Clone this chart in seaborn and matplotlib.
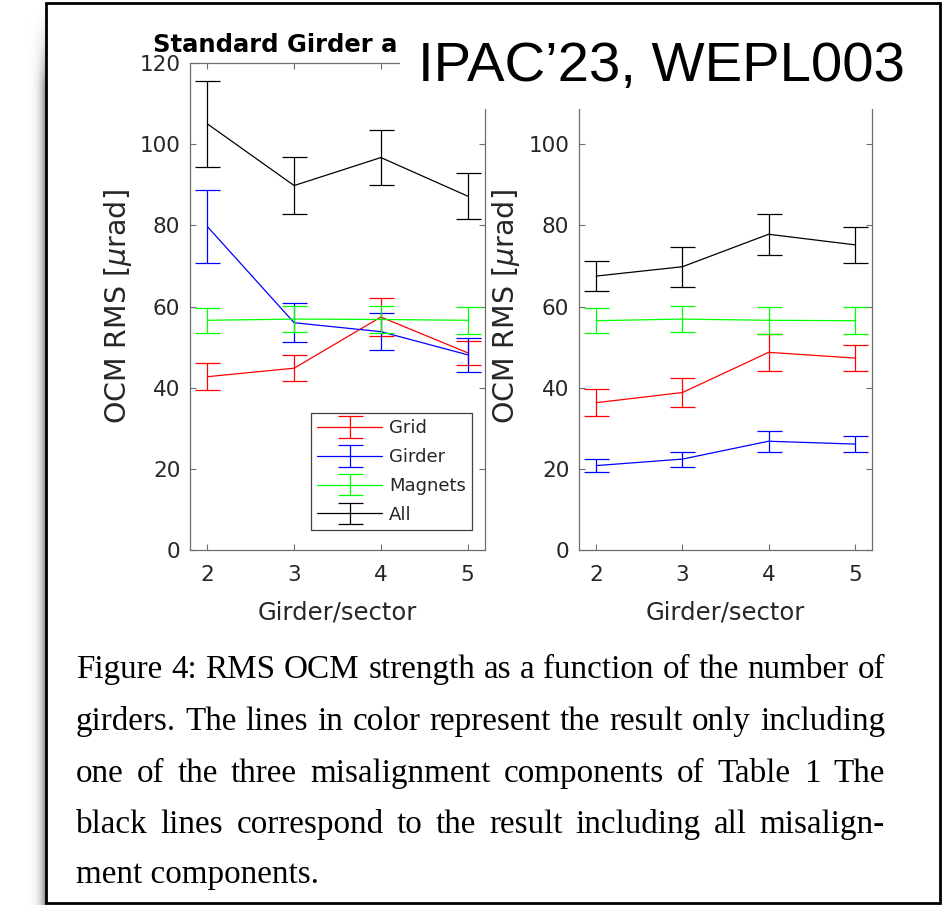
import numpy as np
import pandas as pd
import matplotlib
matplotlib.use("Agg")
import matplotlib.pyplot as plt
import seaborn as sns
from matplotlib.patches import Rectangle
from matplotlib.lines import Line2D
from matplotlib.container import ErrorbarContainer
from matplotlib.legend_handler import HandlerTuple, HandlerErrorbar

# ---------------------------------------------------------------- data
girders = [2, 3, 4, 5]
components = ["Grid", "Girder", "Magnets", "All"]

# left panel (standard girder)
std_grid = [42.7, 44.8, 57.4, 48.6]
std_grid_err = [3.3, 3.2, 4.6, 3.0]
std_girder = [79.7, 56.0, 53.8, 48.1]
std_girder_err = [9.0, 4.8, 4.5, 4.2]
std_magnets = [56.6, 56.9, 56.8, 56.6]
std_magnets_err = [3.1, 3.3, 3.4, 3.3]
std_all = [105.0, 89.8, 96.7, 87.2]
std_all_err = [10.6, 7.1, 6.8, 5.6]

# right panel
alt_grid = [36.3, 38.8, 48.7, 47.3]
alt_grid_err = [3.4, 3.6, 4.5, 3.3]
alt_girder = [20.8, 22.4, 26.8, 26.1]
alt_girder_err = [1.65, 1.85, 2.6, 2.05]
alt_magnets = [56.5, 56.9, 56.6, 56.5]
alt_magnets_err = [3.1, 3.3, 3.3, 3.3]
alt_all = [67.5, 69.8, 77.8, 75.2]
alt_all_err = [3.8, 4.9, 5.0, 4.5]

colors = {"Grid": "#ff0000", "Girder": "#0000ff",
          "Magnets": "#00ff00", "All": "#000000"}

x_label = "Girder/sector"
y_label = "OCM RMS [$\\mu$rad]"
title_text = "Standard Girder a"
badge_text = "IPAC\u201923, WEPL003"
caption_lines = [
    "Figure 4: RMS OCM strength as a function of the number of",
    "girders.  The lines in color represent the result only including",
    "one of the three misalignment components of Table 1 The",
    "black lines correspond to the result including all misalign-",
    "ment components.",
]

panels = {
    "left": {c: (v, e) for c, v, e in zip(
        components,
        [std_grid, std_girder, std_magnets, std_all],
        [std_grid_err, std_girder_err, std_magnets_err, std_all_err])},
    "right": {c: (v, e) for c, v, e in zip(
        components,
        [alt_grid, alt_girder, alt_magnets, alt_all],
        [alt_grid_err, alt_girder_err, alt_magnets_err, alt_all_err])},
}

rows = []
for pname, series in panels.items():
    for comp, (vals, errs) in series.items():
        for g, v, e in zip(girders, vals, errs):
            rows.append({"panel": pname, "component": comp,
                         "girders": g, "rms": v, "err": e})
df = pd.DataFrame(rows)

# ---------------------------------------------------------------- style
sns.set_theme(style="ticks", rc={
    "axes.edgecolor": "#6e6e6e",
    "axes.linewidth": 0.9,
    "xtick.color": "#6e6e6e",
    "ytick.color": "#6e6e6e",
    "xtick.labelcolor": "#262626",
    "ytick.labelcolor": "#262626",
    "axes.labelcolor": "#262626",
})
plt.rcParams["font.family"] = ["DejaVu Sans"]
plt.rcParams["mathtext.fontset"] = "dejavusans"

W, H, DPI = 943, 905, 100
fig = plt.figure(figsize=(W / DPI, H / DPI), dpi=DPI)
fig.patch.set_facecolor("white")


def fx(px):
    return px / W


def fy(py):
    return 1 - py / H


# drop shadow on the left of the framed figure
shadow_ax = fig.add_axes([fx(26), 0, fx(20), fy(10)], zorder=-5)
ramp = np.linspace(0, 1, 60) ** 2.2 * 0.55
fade = np.clip(np.linspace(0, 1, 200) * 12, 0, 1)[:, None]
shadow_ax.imshow(fade * ramp[None, :], cmap="Greys", vmin=0, vmax=1,
                 aspect="auto", interpolation="bilinear")
shadow_ax.set_axis_off()

# outer frame
fig.add_artist(Rectangle((fx(46), fy(903)), fx(940) - fx(46), fy(3) - fy(903),
                         transform=fig.transFigure, facecolor="none",
                         edgecolor="black", linewidth=2.0, zorder=8))

ax_top, ax_bot = 63, 550
axes_px = {"left": (190, 485), "right": (579, 872)}

legend_handles = []
for pname, (x0, x1) in axes_px.items():
    ax = fig.add_axes([fx(x0), fy(ax_bot), fx(x1) - fx(x0),
                       fy(ax_top) - fy(ax_bot)])
    sub = df[df["panel"] == pname]
    sns.lineplot(data=sub, x="girders", y="rms", hue="component",
                 hue_order=components, palette=colors, legend=False,
                 linewidth=0.9, ax=ax, errorbar=None)
    for comp in components:
        s = sub[sub["component"] == comp]
        cont = ax.errorbar(s["girders"], s["rms"], yerr=s["err"], fmt="none",
                           ecolor=colors[comp], elinewidth=0.9, capsize=9,
                           capthick=0.9)
        if pname == "left":
            legend_handles.append(
                (Line2D([], [], color=colors[comp], linewidth=0.9), cont))

    ax.set_xlim(1.8, 5.2)
    ax.set_ylim(0, 120)
    ax.set_xticks(girders)
    ax.set_yticks(range(0, 121 if pname == "left" else 101, 20))
    ax.tick_params(direction="in", length=4, width=0.8, top=True, right=True,
                   labelsize=15.5)
    ax.tick_params(axis="x", pad=11)
    ax.tick_params(axis="y", pad=7)
    for sp in ax.spines.values():
        sp.set_visible(True)
    ax.set_xlabel(x_label, fontsize=17.5)
    ax.set_ylabel(y_label, fontsize=20.5)
    ax.xaxis.set_label_coords(0.5, (ax_bot - 612) / (ax_bot - ax_top))
    ax.xaxis.label.set_va("center")
    ax.yaxis.set_label_coords((118 + (0 if pname == "left" else 388) - x0)
                              / (x1 - x0), 0.5)
    ax.yaxis.label.set_va("center")

    if pname == "left":
        leg = ax.legend(legend_handles, components,
                        handler_map={tuple: HandlerTuple(ndivide=1),
                                     ErrorbarContainer: HandlerErrorbar(
                                         xerr_size=0.6, yerr_size=0.6)},
                        loc="lower right",
                        bbox_to_anchor=((472 - x0) / (x1 - x0),
                                        (ax_bot - 530) / (ax_bot - ax_top)),
                        fontsize=13, frameon=True, fancybox=False,
                        framealpha=1, edgecolor="#404040",
                        handlelength=3.6, handletextpad=0.35,
                        borderpad=0.35, labelspacing=0.6, borderaxespad=0)
        leg.get_frame().set_linewidth(0.9)
        for t in leg.get_texts():
            t.set_color("#262626")

# figure title (partly hidden beneath the conference badge)
fig.text(fx(153), fy(52), title_text, fontsize=17.5, fontweight="bold",
         va="baseline", ha="left", color="black", zorder=4)

# conference badge with white backing
fig.add_artist(Rectangle((fx(400), fy(109)), fx(936) - fx(400),
                         fy(5) - fy(109), transform=fig.transFigure,
                         facecolor="white", edgecolor="none", zorder=5))
fig.text(fx(418), fy(81), badge_text, fontsize=40.5,
         family=["Liberation Sans", "DejaVu Sans"], va="baseline",
         ha="left", color="black", zorder=6)

# justified caption
renderer = fig.canvas.get_renderer()
cap_family = ["Liberation Serif", "DejaVu Serif"]
left_px, right_px = 76, 885
baselines = [678, 730, 782, 833, 883]


def word_widths(words, size):
    out = []
    for w in words:
        t = fig.text(0, 0, w, fontsize=size, family=cap_family)
        out.append(t.get_window_extent(renderer).width)
        t.remove()
    return out


def space_width(size):
    t1 = fig.text(0, 0, "a a", fontsize=size, family=cap_family)
    t2 = fig.text(0, 0, "aa", fontsize=size, family=cap_family)
    sw = (t1.get_window_extent(renderer).width
          - t2.get_window_extent(renderer).width)
    t1.remove()
    t2.remove()
    return sw


s0 = 20.0
natural = []
for line in caption_lines[:-1]:
    ws = line.split()
    natural.append(sum(word_widths(ws, s0)) + (len(ws) - 1) * space_width(s0))
cap_size = s0 * (right_px - left_px) / max(natural) * 0.995

for line, base in zip(caption_lines[:-1], baselines[:-1]):
    ws = line.split()
    widths = word_widths(ws, cap_size)
    gap = (right_px - left_px - sum(widths)) / (len(ws) - 1)
    xpos = left_px
    for w, wd in zip(ws, widths):
        fig.text(fx(xpos), fy(base), w, fontsize=cap_size, family=cap_family,
                 va="baseline", ha="left", color="black")
        xpos += wd + gap
fig.text(fx(left_px), fy(baselines[-1]), caption_lines[-1], fontsize=cap_size,
         family=cap_family, va="baseline", ha="left", color="black")

fig.savefig("out.png", dpi=DPI, facecolor="white")
